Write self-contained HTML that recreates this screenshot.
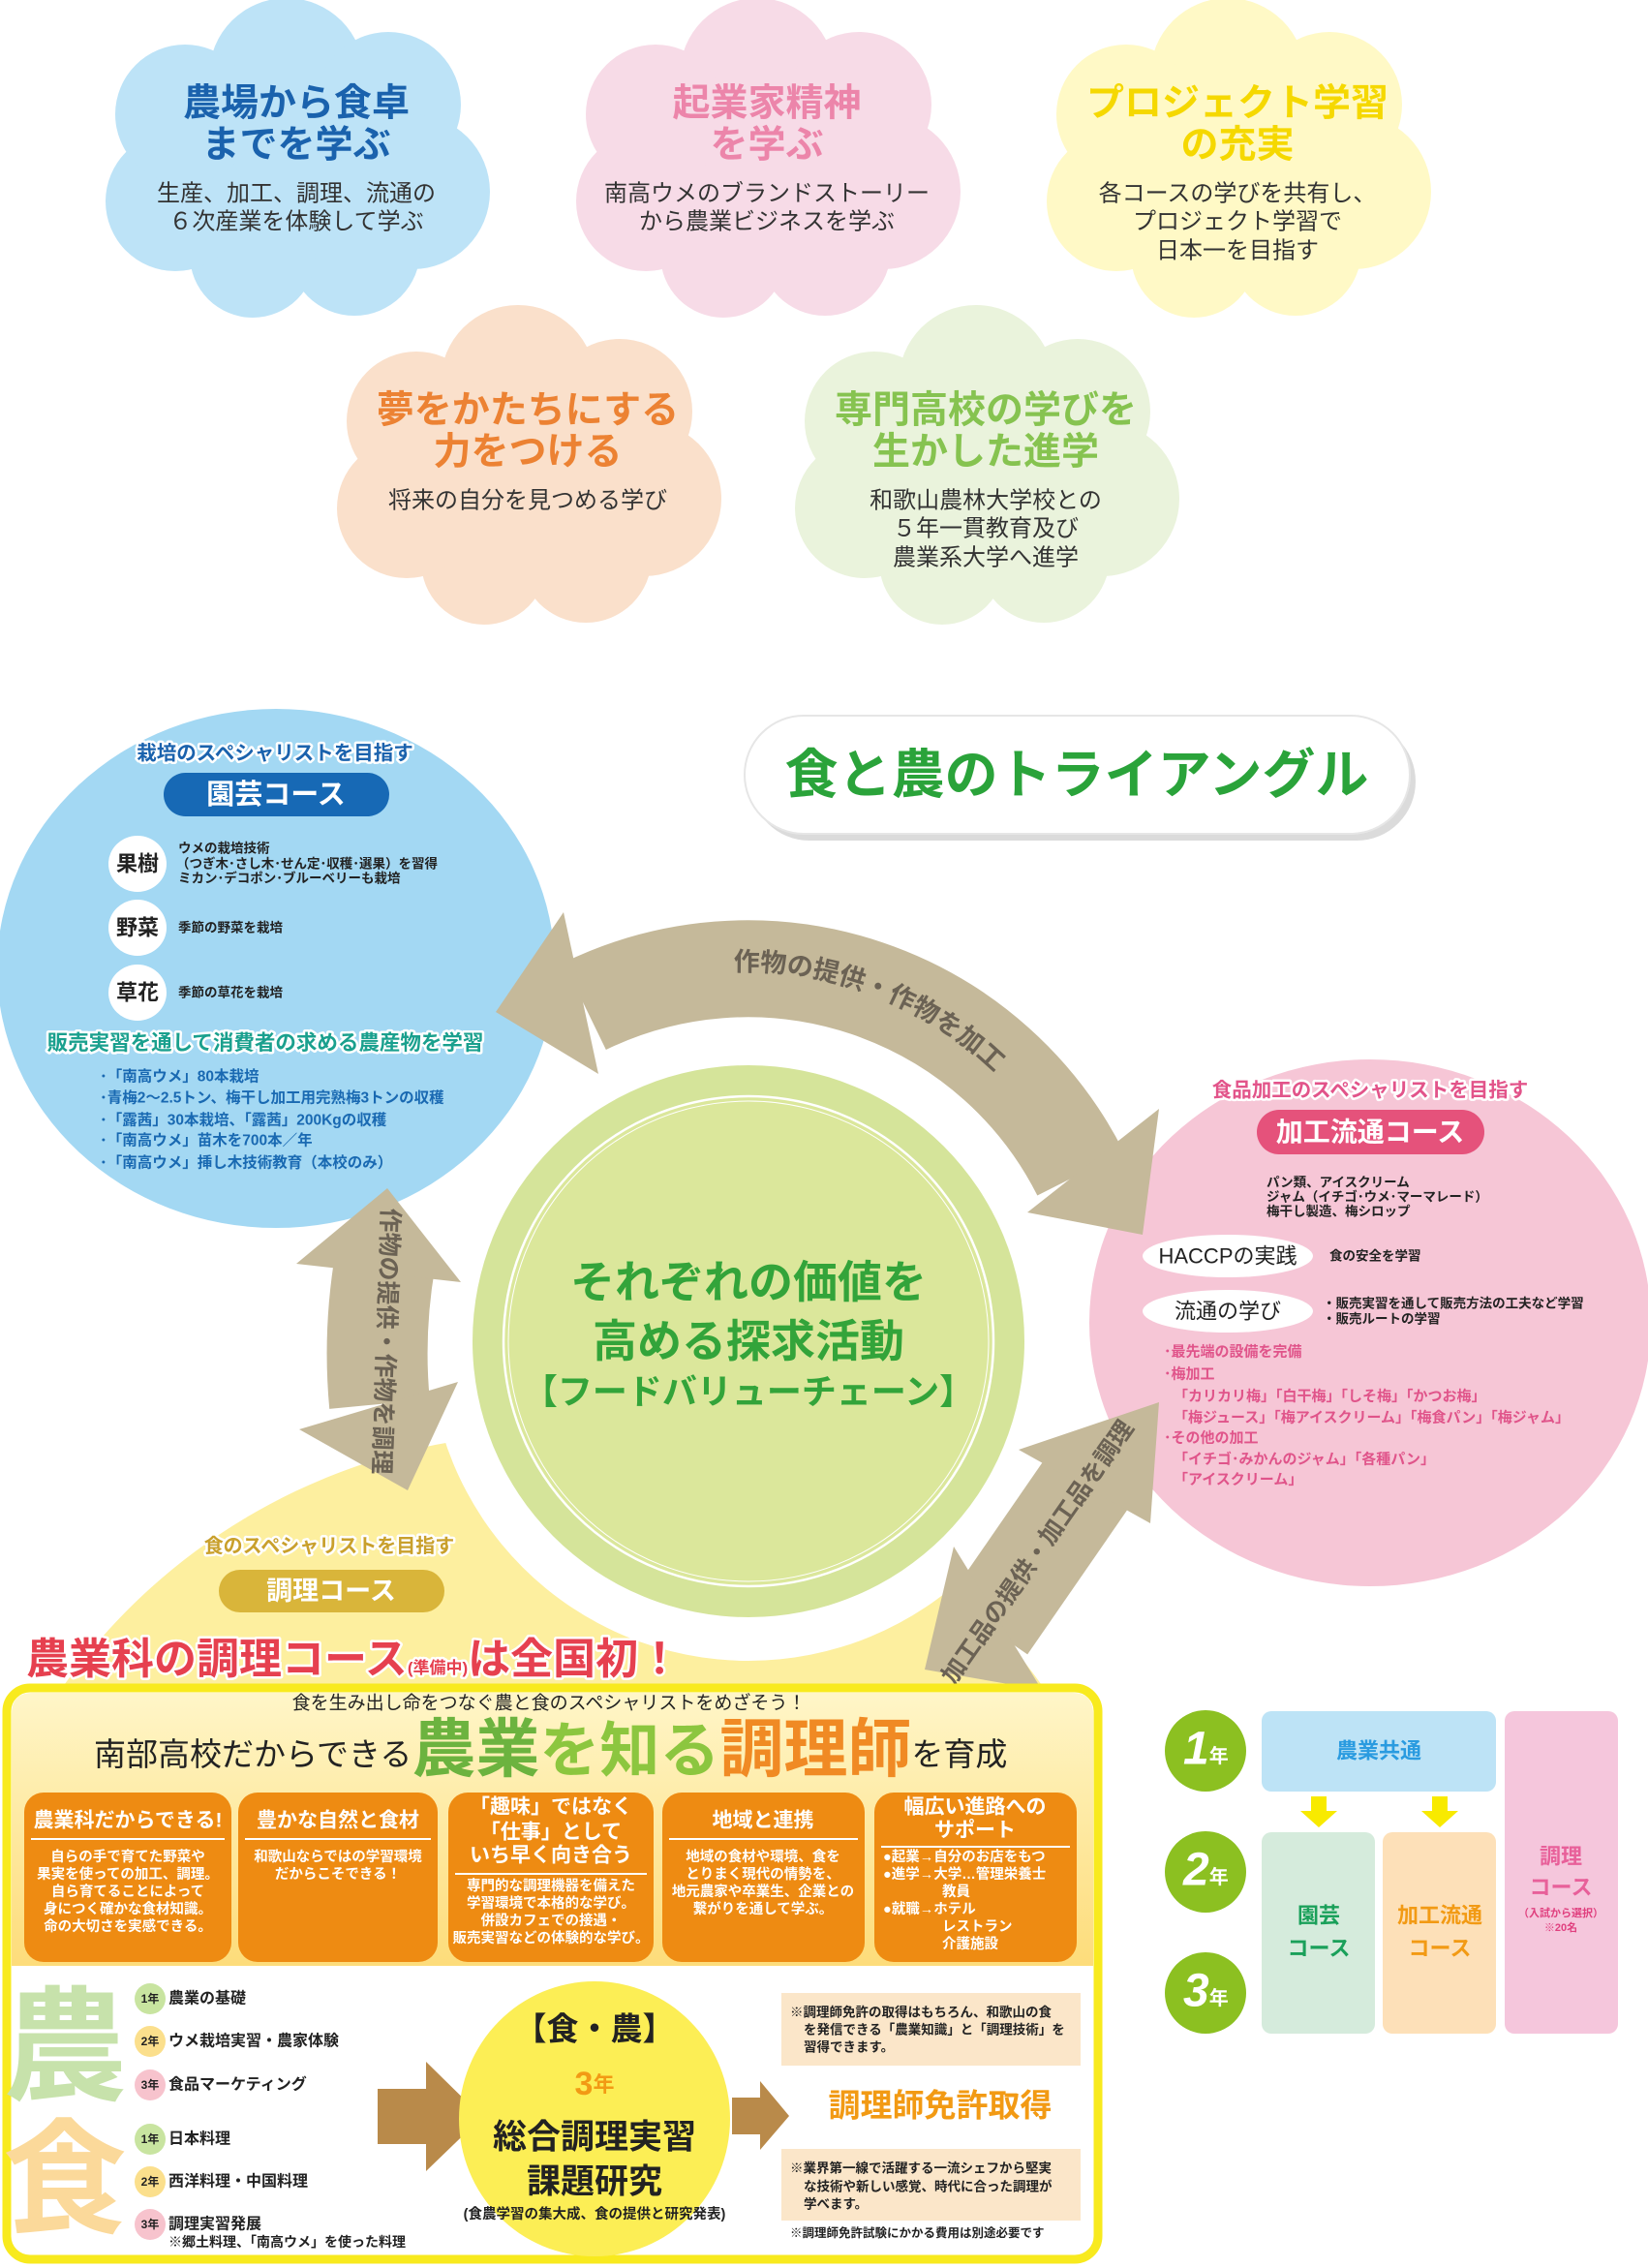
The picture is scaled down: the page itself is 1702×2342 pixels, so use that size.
<!DOCTYPE html>
<html><head><meta charset="utf-8">
<style>
html,body{margin:0;padding:0;background:#fff;width:1702px;height:2342px;overflow:hidden;}
svg{display:block;}
text{font-family:"Liberation Sans","Noto Sans CJK JP",sans-serif;font-weight:bold;}
.n{font-weight:normal;}
.o{paint-order:stroke;stroke:#fff;stroke-width:5px;stroke-linejoin:round;}
</style></head>
<body>
<svg width="1702" height="2342" viewBox="0 0 1702 2342" xmlns="http://www.w3.org/2000/svg">
<defs>
<symbol id="cloud" overflow="visible">
<ellipse cx="0" cy="0" rx="165" ry="120"/>
<circle cx="-10" cy="-85" r="80"/>
<circle cx="95" cy="-55" r="75"/>
<circle cx="120" cy="35" r="80"/>
<circle cx="60" cy="95" r="68"/>
<circle cx="-45" cy="100" r="65"/>
<circle cx="-125" cy="45" r="72"/>
<circle cx="-115" cy="-45" r="72"/>
</symbol>
<linearGradient id="topg" x1="0" y1="0" x2="0" y2="1">
<stop offset="0" stop-color="#fff6c8"/><stop offset="1" stop-color="#fddc7a"/>
</linearGradient>
<clipPath id="ycl"><rect x="0" y="0" width="1702" height="1745"/></clipPath>
<path id="arcp" d="M 607 1039 A 372 372 0 0 1 1104 1215"/>
</defs>

<use href="#cloud" x="306" y="163" fill="#bde3f7"/>
<use href="#cloud" x="792" y="163" fill="#f7dbe7"/>
<use href="#cloud" x="1278" y="163" fill="#fff9c6"/>
<use href="#cloud" x="545" y="480" fill="#fae0cb"/>
<use href="#cloud" x="1018" y="480" fill="#eaf3dc"/>

<g text-anchor="middle" dominant-baseline="central">
<text x="306" y="107" font-size="39" fill="#1a62ad">農場から食卓</text>
<text x="306" y="150" font-size="39" fill="#1a62ad">までを学ぶ</text>
<text x="306" y="200" font-size="24" fill="#333" class="n">生産、加工、調理、流通の</text>
<text x="306" y="229" font-size="24" fill="#333" class="n">６次産業を体験して学ぶ</text>

<text x="792" y="107" font-size="39" fill="#ec85aa">起業家精神</text>
<text x="792" y="150" font-size="39" fill="#ec85aa">を学ぶ</text>
<text x="792" y="200" font-size="24" fill="#333" class="n">南高ウメのブランドストーリー</text>
<text x="792" y="229" font-size="24" fill="#333" class="n">から農業ビジネスを学ぶ</text>

<text x="1278" y="107" font-size="39" fill="#f5d800">プロジェクト学習</text>
<text x="1278" y="150" font-size="39" fill="#f5d800">の充実</text>
<text x="1278" y="200" font-size="24" fill="#333" class="n">各コースの学びを共有し、</text>
<text x="1278" y="229" font-size="24" fill="#333" class="n">プロジェクト学習で</text>
<text x="1278" y="259" font-size="24" fill="#333" class="n">日本一を目指す</text>

<text x="545" y="424" font-size="39" fill="#ec8233">夢をかたちにする</text>
<text x="545" y="467" font-size="39" fill="#ec8233">力をつける</text>
<text x="545" y="517" font-size="24" fill="#333" class="n">将来の自分を見つめる学び</text>

<text x="1018" y="424" font-size="39" fill="#86c350">専門高校の学びを</text>
<text x="1018" y="467" font-size="39" fill="#86c350">生かした進学</text>
<text x="1018" y="517" font-size="24" fill="#333" class="n">和歌山農林大学校との</text>
<text x="1018" y="546" font-size="24" fill="#333" class="n">５年一貫教育及び</text>
<text x="1018" y="576" font-size="24" fill="#333" class="n">農業系大学へ進学</text>
</g>

<rect x="775" y="746" width="687" height="122" rx="61" fill="#999" opacity="0.35"/>
<rect x="769" y="739" width="687" height="122" rx="61" fill="#fff" stroke="#e6e6e6" stroke-width="2"/>
<text x="1112" y="800" font-size="55" fill="#2aa33a" text-anchor="middle" dominant-baseline="central">食と農のトライアングル</text>

<ellipse cx="571" cy="2100" rx="620" ry="620" fill="#fdef9f" clip-path="url(#ycl)"/>
<ellipse cx="285" cy="1000" rx="288" ry="268" fill="#a3d8f3"/>
<ellipse cx="1415" cy="1366" rx="290" ry="272" fill="#f6c6d6"/>

<circle cx="773" cy="1385" r="330" fill="#fff"/>
<circle cx="773" cy="1385" r="285" fill="#d5e49a"/>
<circle cx="773" cy="1385" r="253" fill="#dbe79b" stroke="#fff" stroke-width="2.5"/>
<circle cx="773" cy="1385" r="248" fill="none" stroke="#fff" stroke-width="1"/>
<g text-anchor="middle" dominant-baseline="central" fill="#33a43a">
<text x="773" y="1324" font-size="46">それぞれの価値を</text>
<text x="773" y="1385" font-size="46">高める探求活動</text>
<text x="773" y="1437" font-size="36">【フードバリューチェーン】</text>
</g>

<g fill="#c5b99a" stroke="none">
<path d="M 604 1039 A 385 385 0 0 1 1116 1212" fill="none" stroke="#c5b99a" stroke-width="100"/>
<polygon points="582,942 512,1045 618,1109"/>
<polygon points="1197,1145 1061,1252 1180,1275"/>
<path d="M 398 1300 Q 385 1375 392 1450" fill="none" stroke="#c5b99a" stroke-width="104"/>
<polygon points="400,1227 306,1305 476,1324"/>
<polygon points="309,1476 473,1427 421,1539"/>
<line x1="1020" y1="1680" x2="1125" y2="1528" stroke="#c5b99a" stroke-width="100"/>
<polygon points="1052,1497 1197,1448 1188,1573"/>
<polygon points="985,1597 1076,1745 955,1724"/>
</g>
<text font-size="27" fill="#6b6254"><textPath href="#arcp" startOffset="52%" text-anchor="middle">作物の提供・作物を加工</textPath></text>
<text x="0" y="0" font-size="25" fill="#6b6254" text-anchor="middle" dominant-baseline="central" transform="translate(398 1385) rotate(92)">作物の提供・作物を調理</text>
<text x="0" y="0" font-size="25" fill="#6b6254" text-anchor="middle" dominant-baseline="central" transform="translate(1072 1603) rotate(-55)">加工品の提供・加工品を調理</text>

<text x="284" y="778" font-size="20.5" fill="#1a62ad" text-anchor="middle" dominant-baseline="central" class="o">栽培のスペシャリストを目指す</text>
<rect x="169" y="798" width="233" height="45" rx="22.5" fill="#1769b5"/>
<text x="285" y="821" font-size="29" fill="#fff" text-anchor="middle" dominant-baseline="central">園芸コース</text>
<g fill="#fff"><ellipse cx="142" cy="892" rx="30" ry="29"/><ellipse cx="142" cy="958" rx="30" ry="29"/><ellipse cx="142" cy="1025" rx="30" ry="29"/></g>
<g text-anchor="middle" dominant-baseline="central" font-size="22" fill="#222">
<text x="142" y="892">果樹</text><text x="142" y="958">野菜</text><text x="142" y="1025">草花</text></g>
<g font-size="13.5" fill="#222" dominant-baseline="central">
<text x="184" y="876">ウメの栽培技術</text>
<text x="182" y="892">（つぎ木･さし木･せん定･収穫･選果）を習得</text>
<text x="184" y="907">ミカン･デコポン･ブルーベリーも栽培</text>
<text x="184" y="958">季節の野菜を栽培</text>
<text x="184" y="1025">季節の草花を栽培</text>
</g>
<text x="274" y="1077" font-size="21.5" fill="#1aa08e" text-anchor="middle" dominant-baseline="central" class="o">販売実習を通して消費者の求める農産物を学習</text>
<g font-size="15.5" fill="#1969b2" dominant-baseline="central">
<text x="103" y="1112">･「南高ウメ」80本栽培</text>
<text x="103" y="1134">･青梅2～2.5トン、梅干し加工用完熟梅3トンの収穫</text>
<text x="103" y="1157">･「露茜」30本栽培、「露茜」200Kgの収穫</text>
<text x="103" y="1178">･「南高ウメ」苗木を700本／年</text>
<text x="103" y="1201">･「南高ウメ」挿し木技術教育（本校のみ）</text>
</g>

<text x="1415" y="1126" font-size="20.5" fill="#e2548a" text-anchor="middle" dominant-baseline="central" class="o">食品加工のスペシャリストを目指す</text>
<rect x="1298" y="1146" width="235" height="46" rx="23" fill="#e5527b"/>
<text x="1415" y="1169" font-size="28" fill="#fff" text-anchor="middle" dominant-baseline="central">加工流通コース</text>
<g font-size="13.5" fill="#222" dominant-baseline="central" class="n">
<text x="1308" y="1221">パン類、アイスクリーム</text>
<text x="1308" y="1236">ジャム（イチゴ･ウメ･マーマレード）</text>
<text x="1308" y="1251">梅干し製造、梅シロップ</text>
</g>
<ellipse cx="1268" cy="1297" rx="88" ry="22" fill="#fff"/>
<ellipse cx="1268" cy="1354" rx="88" ry="22" fill="#fff"/>
<text x="1268" y="1297" font-size="22" fill="#222" text-anchor="middle" dominant-baseline="central" class="n">HACCPの実践</text>
<text x="1268" y="1354" font-size="22" fill="#222" text-anchor="middle" dominant-baseline="central" class="n">流通の学び</text>
<g font-size="13.5" fill="#222" dominant-baseline="central" class="n">
<text x="1373" y="1297">食の安全を学習</text>
<text x="1366" y="1346">・販売実習を通して販売方法の工夫など学習</text>
<text x="1366" y="1362">・販売ルートの学習</text>
</g>
<g font-size="15" fill="#e0548a" dominant-baseline="central">
<text x="1202" y="1396">･最先端の設備を完備</text>
<text x="1202" y="1419">･梅加工</text>
<text x="1212" y="1442">「カリカリ梅」「白干梅」「しそ梅」「かつお梅」</text>
<text x="1212" y="1464">「梅ジュース」「梅アイスクリーム」「梅食パン」「梅ジャム」</text>
<text x="1202" y="1485">･その他の加工</text>
<text x="1212" y="1507">「イチゴ･みかんのジャム」「各種パン」</text>
<text x="1212" y="1528">「アイスクリーム」</text>
</g>

<text x="340" y="1597" font-size="20" fill="#c9a02c" text-anchor="middle" dominant-baseline="central" class="o">食のスペシャリストを目指す</text>
<rect x="226" y="1621" width="233" height="44" rx="22" fill="#d9b53a"/>
<text x="342" y="1643" font-size="27" fill="#fff" text-anchor="middle" dominant-baseline="central">調理コース</text>
<text x="27" y="1728" font-size="44" fill="#e6404f" class="o">農業科の調理コース<tspan font-size="17">(準備中)</tspan>は全国初！</text>

<rect x="7" y="1743" width="1127" height="590" rx="24" fill="#fff" stroke="#f8ea1e" stroke-width="9"/>
<path d="M 12 2030 L 12 1770 Q 12 1748 34 1748 L 1107 1748 Q 1129 1748 1129 1770 L 1129 2030 Z" fill="url(#topg)"/>
<text x="567" y="1759" font-size="19" fill="#222" text-anchor="middle" dominant-baseline="central" class="n">食を生み出し命をつなぐ農と食のスペシャリストをめざそう！</text>
<text x="97" y="1823" font-size="33" fill="#222" class="n">南部高校だからできる<tspan font-size="66" fill="#6cb33f" font-weight="bold" dy="6">農業</tspan><tspan font-size="62" fill="#8cc63f" font-weight="bold">を知る</tspan><tspan font-size="66" fill="#f08a24" font-weight="bold">調理師</tspan><tspan font-size="33" dy="-6">を育成</tspan></text>

<g fill="#ee8b12">
<rect x="25" y="1851" width="214" height="175" rx="20"/>
<rect x="246" y="1851" width="206" height="175" rx="20"/>
<rect x="463" y="1851" width="212" height="175" rx="20"/>
<rect x="684" y="1851" width="209" height="175" rx="20"/>
<rect x="903" y="1851" width="209" height="175" rx="20"/>
</g>
<g stroke="#fff" stroke-width="2">
<line x1="32" y1="1899" x2="232" y2="1899"/>
<line x1="253" y1="1899" x2="445" y2="1899"/>
<line x1="470" y1="1935" x2="668" y2="1935"/>
<line x1="691" y1="1899" x2="886" y2="1899"/>
<line x1="910" y1="1907" x2="1105" y2="1907"/>
</g>
<g fill="#fff" text-anchor="middle" dominant-baseline="central">
<text x="132" y="1880" font-size="21">農業科だからできる!</text>
<text x="349" y="1880" font-size="21">豊かな自然と食材</text>
<text x="569" y="1866" font-size="21">「趣味」ではなく</text>
<text x="569" y="1892" font-size="21">「仕事」として</text>
<text x="569" y="1916" font-size="21">いち早く向き合う</text>
<text x="788" y="1880" font-size="21">地域と連携</text>
<text x="1007" y="1866" font-size="21">幅広い進路への</text>
<text x="1007" y="1890" font-size="21">サポート</text>
</g>
<g fill="#fff" text-anchor="middle" dominant-baseline="central" font-size="14.5" class="n">
<text x="132" y="1918">自らの手で育てた野菜や</text>
<text x="132" y="1936">果実を使っての加工、調理。</text>
<text x="132" y="1954">自ら育てることによって</text>
<text x="132" y="1972">身につく確かな食材知識。</text>
<text x="132" y="1990">命の大切さを実感できる。</text>
<text x="349" y="1918">和歌山ならではの学習環境</text>
<text x="349" y="1936">だからこそできる！</text>
<text x="569" y="1948">専門的な調理機器を備えた</text>
<text x="569" y="1966">学習環境で本格的な学び。</text>
<text x="569" y="1984">併設カフェでの接遇・</text>
<text x="569" y="2002">販売実習などの体験的な学び。</text>
<text x="788" y="1918">地域の食材や環境、食を</text>
<text x="788" y="1936">とりまく現代の情勢を、</text>
<text x="788" y="1954">地元農家や卒業生、企業との</text>
<text x="788" y="1972">繋がりを通して学ぶ。</text>
</g>
<g fill="#fff" font-size="14.5" dominant-baseline="central" class="n">
<text x="912" y="1918">●起業→自分のお店をもつ</text>
<text x="912" y="1936">●進学→大学…管理栄養士</text>
<text x="973" y="1954">教員</text>
<text x="912" y="1972">●就職→ホテル</text>
<text x="973" y="1990">レストラン</text>
<text x="973" y="2008">介護施設</text>
</g>

<text x="67" y="2115" font-size="128" fill="#c7e2ab" text-anchor="middle" dominant-baseline="central">農</text>
<text x="67" y="2252" font-size="128" fill="#fbd99a" text-anchor="middle" dominant-baseline="central">食</text>
<g>
<circle cx="155" cy="2064" r="16" fill="#c8e4a0"/>
<circle cx="155" cy="2108" r="16" fill="#fbdf8c"/>
<circle cx="155" cy="2153" r="16" fill="#f7c3cd"/>
<circle cx="155" cy="2209" r="16" fill="#c8e4a0"/>
<circle cx="155" cy="2253" r="16" fill="#fbdf8c"/>
<circle cx="155" cy="2297" r="16" fill="#f7c3cd"/>
</g>
<g font-size="12" fill="#222" text-anchor="middle" dominant-baseline="central">
<text x="155" y="2064">1年</text><text x="155" y="2108">2年</text><text x="155" y="2153">3年</text>
<text x="155" y="2209">1年</text><text x="155" y="2253">2年</text><text x="155" y="2297">3年</text>
</g>
<g font-size="16" fill="#222" dominant-baseline="central" class="n">
<text x="174" y="2064">農業の基礎</text>
<text x="174" y="2108">ウメ栽培実習・農家体験</text>
<text x="174" y="2153">食品マーケティング</text>
<text x="174" y="2209">日本料理</text>
<text x="174" y="2253">西洋料理・中国料理</text>
<text x="174" y="2297">調理実習発展</text>
<text x="174" y="2315" font-size="14">※郷土料理、「南高ウメ」を使った料理</text>
</g>
<polygon points="390,2157 440,2157 440,2129 498,2186 440,2242 440,2214 390,2214" fill="#b98a4a"/>
<ellipse cx="614" cy="2188" rx="140" ry="142" fill="#fcee55"/>
<polygon points="756,2166 785,2166 785,2149 815,2185 785,2220 785,2204 756,2204" fill="#b98a4a"/>
<g text-anchor="middle" dominant-baseline="central" fill="#222">
<text x="614" y="2095" font-size="33">【食・農】</text>
<text x="614" y="2152" font-size="34" fill="#f29a14">3<tspan font-size="22">年</tspan></text>
<text x="614" y="2207" font-size="35">総合調理実習</text>
<text x="614" y="2253" font-size="35">課題研究</text>
<text x="614" y="2287" font-size="14.5">(食農学習の集大成、食の提供と研究発表)</text>
</g>
<rect x="807" y="2058" width="309" height="75" fill="#fbe6c9"/>
<rect x="807" y="2219" width="309" height="74" fill="#fbe6c9"/>
<g font-size="13.5" fill="#222" dominant-baseline="central" class="n">
<text x="816" y="2078">※調理師免許の取得はもちろん、和歌山の食</text>
<text x="830" y="2096">を発信できる「農業知識」と「調理技術」を</text>
<text x="830" y="2114">習得できます。</text>
<text x="816" y="2239">※業界第一線で活躍する一流シェフから堅実</text>
<text x="830" y="2258">な技術や新しい感覚、時代に合った調理が</text>
<text x="830" y="2276">学べます。</text>
<text x="816" y="2306" font-size="12.5">※調理師免許試験にかかる費用は別途必要です</text>
</g>
<text x="971" y="2174" font-size="33" fill="#f29a14" text-anchor="middle" dominant-baseline="central">調理師免許取得</text>

<g fill="#8cc021"><circle cx="1245" cy="1808" r="42"/><circle cx="1245" cy="1933" r="42"/><circle cx="1245" cy="2058" r="42"/></g>
<g fill="#fff" dominant-baseline="central">
<text x="1222" y="1806" font-size="48" font-style="italic">1<tspan font-size="20" font-style="normal" dy="8">年</tspan></text>
<text x="1222" y="1931" font-size="48" font-style="italic">2<tspan font-size="20" font-style="normal" dy="8">年</tspan></text>
<text x="1222" y="2056" font-size="48" font-style="italic">3<tspan font-size="20" font-style="normal" dy="8">年</tspan></text>
</g>
<rect x="1303" y="1767" width="242" height="83" rx="10" fill="#bde3f6"/>
<rect x="1303" y="1892" width="117" height="208" rx="10" fill="#d5ebdc"/>
<rect x="1428" y="1892" width="117" height="208" rx="10" fill="#fde0b8"/>
<rect x="1554" y="1767" width="117" height="333" rx="10" fill="#f5c6dc"/>
<g fill="#f8ea00">
<polygon points="1354,1855 1370,1855 1370,1870 1381,1870 1362,1887 1343,1870 1354,1870"/>
<polygon points="1479,1855 1495,1855 1495,1870 1506,1870 1487,1887 1468,1870 1479,1870"/>
</g>
<g text-anchor="middle" dominant-baseline="central">
<text x="1424" y="1808" font-size="22" fill="#2a9be0">農業共通</text>
<text x="1362" y="1978" font-size="22" fill="#1aa05a">園芸</text>
<text x="1362" y="2012" font-size="22" fill="#1aa05a">コース</text>
<text x="1487" y="1978" font-size="22" fill="#f29a14">加工流通</text>
<text x="1487" y="2012" font-size="22" fill="#f29a14">コース</text>
<text x="1612" y="1917" font-size="22" fill="#e8609a">調理</text>
<text x="1612" y="1949" font-size="22" fill="#e8609a">コース</text>
<text x="1612" y="1976" font-size="11" fill="#e0407f">（入試から選択）</text>
<text x="1612" y="1991" font-size="11" fill="#e0407f">※20名</text>
</g>
</svg>
</body></html>
